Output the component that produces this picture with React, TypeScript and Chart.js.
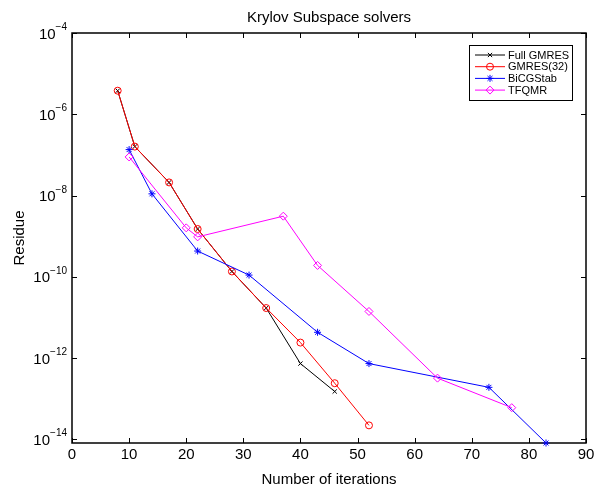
import React, { useEffect, useRef } from "react";
import { Chart, registerables } from "chart.js";

Chart.register(...registerables);

const chartTitle = "Krylov Subspace solvers";
const xAxisTitle = "Number of iterations";
const yAxisTitle = "Residue";

const seriesNames = ["Full GMRES", "GMRES(32)", "BiCGStab", "TFQMR"];

const fullGmresIter = [8, 11, 17, 22, 28, 34, 40, 46];
const fullGmresRes = [3.8e-6, 1.6e-7, 2.1e-8, 1.5e-9, 1.35e-10, 1.7e-11, 7.3e-13, 1.5e-13];

const gmres32Iter = [8, 11, 17, 22, 28, 34, 40, 46, 52];
const gmres32Res = [3.8e-6, 1.6e-7, 2.1e-8, 1.5e-9, 1.35e-10, 1.7e-11, 2.4e-12, 2.4e-13, 2.2e-14];

const bicgIter = [10, 14, 22, 31, 43, 52, 73, 83];
const bicgRes = [1.35e-7, 1.1e-8, 4.3e-10, 1.1e-10, 4.3e-12, 7.3e-13, 1.9e-13, 8.1e-15];

const tfqmrIter = [10, 20, 22, 37, 43, 52, 64, 77];
const tfqmrRes = [8.9e-8, 1.6e-9, 9.6e-10, 3.1e-9, 1.9e-10, 1.4e-11, 3.2e-13, 6e-14];

const xTickValues = [0, 10, 20, 30, 40, 50, 60, 70, 80, 90];
const yTickExponents = [-4, -6, -8, -10, -12, -14];
const xMin = 0;
const xMax = 90;
const yMin = 8.1e-15;
const yMax = 1e-4;

const FONT = "'Liberation Sans', Arial, Helvetica, sans-serif";

type MarkerSpec = { style: string; radius: number; color: string };

function drawMarker(ctx: CanvasRenderingContext2D, m: MarkerSpec, x: number, y: number) {
  const r = m.radius;
  ctx.save();
  ctx.strokeStyle = m.color;
  ctx.lineWidth = 1;
  ctx.beginPath();
  if (m.style === "crossRot") {
    const d = r * Math.SQRT1_2;
    ctx.moveTo(x - d, y - d);
    ctx.lineTo(x + d, y + d);
    ctx.moveTo(x - d, y + d);
    ctx.lineTo(x + d, y - d);
  } else if (m.style === "circle") {
    ctx.arc(x, y, r, 0, Math.PI * 2);
  } else if (m.style === "star") {
    const d = r * Math.SQRT1_2;
    ctx.moveTo(x - r, y);
    ctx.lineTo(x + r, y);
    ctx.moveTo(x, y - r);
    ctx.lineTo(x, y + r);
    ctx.moveTo(x - d, y - d);
    ctx.lineTo(x + d, y + d);
    ctx.moveTo(x - d, y + d);
    ctx.lineTo(x + d, y - d);
  } else if (m.style === "rectRot") {
    ctx.moveTo(x, y - r);
    ctx.lineTo(x + r, y);
    ctx.lineTo(x, y + r);
    ctx.lineTo(x - r, y);
    ctx.closePath();
  }
  ctx.stroke();
  ctx.restore();
}

const matlabPlugin = {
  id: "matlabAxes",
  beforeDatasetsDraw(chart: any) {
    const { ctx, chartArea: a, scales } = chart;
    const xs = scales.x;
    const ys = scales.y;
    ctx.save();
    ctx.strokeStyle = "#000";
    ctx.lineWidth = 1.5;
    ctx.strokeRect(a.left, a.top, a.right - a.left, a.bottom - a.top);
    ctx.lineWidth = 1;
    const L = 5;
    ctx.beginPath();
    for (const v of xTickValues) {
      const px = Math.round(xs.getPixelForValue(v)) + 0.5;
      ctx.moveTo(px, a.bottom);
      ctx.lineTo(px, a.bottom - L);
      ctx.moveTo(px, a.top);
      ctx.lineTo(px, a.top + L);
    }
    for (const e of yTickExponents) {
      const py = Math.round(ys.getPixelForValue(Math.pow(10, e))) + 0.5;
      ctx.moveTo(a.left, py);
      ctx.lineTo(a.left + L, py);
      ctx.moveTo(a.right, py);
      ctx.lineTo(a.right - L, py);
    }
    ctx.stroke();

    ctx.fillStyle = "#000";
    ctx.font = `15px ${FONT}`;
    ctx.textAlign = "center";
    ctx.textBaseline = "alphabetic";
    for (const v of xTickValues) {
      ctx.fillText(String(v), xs.getPixelForValue(v), a.bottom + 16);
    }
    for (const e of yTickExponents) {
      const py = ys.getPixelForValue(Math.pow(10, e));
      const sup = "\u2212" + Math.abs(e);
      ctx.font = `10px ${FONT}`;
      ctx.textAlign = "right";
      const w2 = ctx.measureText(sup).width;
      ctx.fillText(sup, a.left - 5, py - 3);
      ctx.font = `15px ${FONT}`;
      ctx.fillText("10", a.left - 5 - w2, py + 5.5);
    }
    ctx.font = `15px ${FONT}`;
    ctx.textAlign = "center";
    ctx.fillText(chartTitle, (a.left + a.right) / 2, 22);
    ctx.fillText(xAxisTitle, (a.left + a.right) / 2, 484);
    ctx.save();
    ctx.translate(24, (a.top + a.bottom) / 2);
    ctx.rotate(-Math.PI / 2);
    ctx.fillText(yAxisTitle, 0, 0);
    ctx.restore();
    ctx.restore();
  },
  afterDraw(chart: any) {
    const { ctx } = chart;
    const datasets = chart.data.datasets;
    const bx = 469.5;
    const by = 45.5;
    const bw = 103;
    const bh = 55;
    ctx.save();
    ctx.fillStyle = "#fff";
    ctx.fillRect(bx, by, bw, bh);
    ctx.strokeStyle = "#000";
    ctx.lineWidth = 1;
    ctx.strokeRect(bx, by, bw, bh);
    ctx.font = `11px ${FONT}`;
    ctx.textAlign = "left";
    ctx.textBaseline = "middle";
    datasets.forEach((ds: any, i: number) => {
      const y = by + 9.5 + i * 11.7;
      ctx.strokeStyle = ds.borderColor;
      ctx.lineWidth = 1;
      ctx.beginPath();
      ctx.moveTo(475, y);
      ctx.lineTo(505, y);
      ctx.stroke();
      drawMarker(ctx, { style: ds.pointStyle, radius: ds.pointRadius, color: ds.borderColor }, 490, y);
      ctx.fillStyle = "#000";
      ctx.fillText(ds.label, 508, y + 0.5);
    });
    ctx.restore();
  },
};

function toPoints(xs: number[], ys: number[]) {
  return xs.map((x, i) => ({ x, y: ys[i] }));
}

export default function App() {
  const ref = useRef<HTMLCanvasElement>(null);
  useEffect(() => {
    const mk = (label: string, xs: number[], ys: number[], color: string, style: string, radius: number, order: number) => ({
      label,
      data: toPoints(xs, ys),
      borderColor: color,
      backgroundColor: color,
      borderWidth: 1,
      pointStyle: style,
      pointRadius: radius,
      pointBorderColor: color,
      pointBackgroundColor: "rgba(0,0,0,0)",
      pointBorderWidth: 1,
      tension: 0,
      fill: false,
      clip: false,
      order,
    });
    const chart = new Chart(ref.current as HTMLCanvasElement, {
      type: "line",
      data: {
        datasets: [
          mk(seriesNames[0], fullGmresIter, fullGmresRes, "#000000", "crossRot", 3, 4),
          mk(seriesNames[1], gmres32Iter, gmres32Res, "#ff0000", "circle", 3.5, 3),
          mk(seriesNames[2], bicgIter, bicgRes, "#0000ff", "star", 3.5, 2),
          mk(seriesNames[3], tfqmrIter, tfqmrRes, "#ff00ff", "rectRot", 4, 1),
        ] as any,
      },
      options: {
        animation: false,
        responsive: false,
        devicePixelRatio: 1,
        layout: { padding: { left: 72, top: 33, right: 8, bottom: 43 } },
        scales: {
          x: { type: "linear", min: xMin, max: xMax, display: false },
          y: { type: "logarithmic", min: yMin, max: yMax, display: false },
        },
        plugins: {
          legend: { display: false },
          tooltip: { enabled: false },
          title: { display: false },
        },
      },
      plugins: [matlabPlugin],
    });
    return () => chart.destroy();
  }, []);
  return (
    <div style={{ position: "absolute", left: 0, top: 0, width: 594, height: 486, background: "#fff" }}>
      <canvas ref={ref} width={594} height={486} style={{ display: "block", width: 594, height: 486 }} />
    </div>
  );
}
